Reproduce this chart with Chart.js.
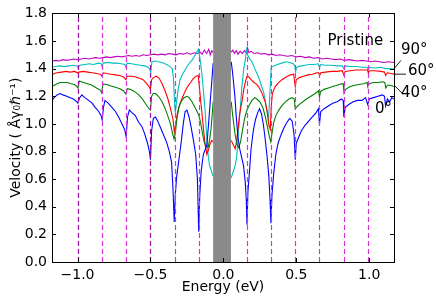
<!DOCTYPE html>
<html>
<head>
<meta charset="utf-8">
<script src="https://cdn.jsdelivr.net/npm/chart.js@4"></script>
<style>
  html, body { margin: 0; padding: 0; background: #fff; }
</style>
</head>
<body>
<canvas id="chart" width="436" height="296"></canvas>
<script>
// Velocity vs energy, pristine + rotated cases (0°, 40°, 60°, 90°)
// each curve is split in two: below and above the gray gap around E = 0

const xTicks = [-1.0, -0.5, 0.0, 0.5, 1.0];
const yTicks = [0.0, 0.2, 0.4, 0.6, 0.8, 1.0, 1.2, 1.4, 1.6, 1.8];

// energies of the dashed vertical markers (eV)
const markerE = [-0.997, -0.832, -0.666, -0.5, -0.335, -0.169,
                 0.162, 0.327, 0.493, 0.658, 0.824, 0.989];

// gray gap (eV)
const gapE = [-0.07, 0.052];

const pristineL = [[-1.175,1.455],[-1.15,1.46],[-1.125,1.455],[-1.10,1.465],[-1.075,1.46],[-1.05,1.465],[-1.025,1.47],[-1.0,1.465],[-0.975,1.47],[-0.95,1.475],[-0.925,1.47],[-0.90,1.475],[-0.875,1.48],[-0.85,1.475],[-0.825,1.48],[-0.80,1.485],[-0.775,1.48],[-0.75,1.485],[-0.725,1.49],[-0.70,1.485],[-0.675,1.49],[-0.65,1.495],[-0.625,1.49],[-0.60,1.495],[-0.575,1.49],[-0.55,1.50],[-0.525,1.495],[-0.50,1.50],[-0.475,1.505],[-0.45,1.50],[-0.425,1.505],[-0.40,1.50],[-0.375,1.51],[-0.35,1.505],[-0.325,1.50],[-0.30,1.51],[-0.275,1.505],[-0.25,1.515],[-0.225,1.505],[-0.20,1.515],[-0.18,1.51],[-0.16,1.52],[-0.145,1.505],[-0.13,1.535],[-0.115,1.51],[-0.10,1.54],[-0.09,1.50],[-0.08,1.53],[-0.07,1.515]];
const pristineR = [[0.054,1.52],[0.065,1.535],[0.075,1.51],[0.088,1.53],[0.10,1.505],[0.115,1.525],[0.13,1.51],[0.145,1.53],[0.158,1.515],[0.166,1.55],[0.175,1.515],[0.19,1.525],[0.21,1.51],[0.235,1.515],[0.26,1.505],[0.285,1.51],[0.31,1.50],[0.335,1.505],[0.36,1.495],[0.385,1.50],[0.41,1.495],[0.44,1.49],[0.47,1.495],[0.50,1.485],[0.53,1.49],[0.56,1.48],[0.59,1.485],[0.62,1.475],[0.65,1.48],[0.68,1.47],[0.71,1.475],[0.74,1.47],[0.77,1.465],[0.80,1.47],[0.83,1.46],[0.86,1.465],[0.89,1.46],[0.92,1.455],[0.95,1.46],[0.98,1.455],[1.01,1.45],[1.04,1.455],[1.07,1.45],[1.10,1.445],[1.13,1.45],[1.17,1.445]];

const deg90L = [[-1.175,1.41],[-1.15,1.415],[-1.12,1.42],[-1.09,1.415],[-1.06,1.42],[-1.03,1.425],[-1.003,1.42],[-0.997,1.41],[-0.985,1.425],[-0.95,1.43],[-0.92,1.435],[-0.89,1.43],[-0.86,1.44],[-0.838,1.435],[-0.832,1.415],[-0.824,1.44],[-0.79,1.445],[-0.76,1.44],[-0.73,1.44],[-0.70,1.435],[-0.675,1.43],[-0.668,1.41],[-0.66,1.44],[-0.63,1.435],[-0.60,1.43],[-0.57,1.425],[-0.54,1.42],[-0.515,1.41],[-0.503,1.39],[-0.498,1.37],[-0.49,1.45],[-0.47,1.455],[-0.45,1.45],[-0.42,1.445],[-0.39,1.43],[-0.365,1.415],[-0.35,1.40],[-0.342,1.33],[-0.336,1.18],[-0.33,1.08],[-0.322,1.15],[-0.31,1.25],[-0.297,1.32],[-0.28,1.36],[-0.263,1.39],[-0.24,1.43],[-0.216,1.46],[-0.198,1.49],[-0.182,1.52],[-0.171,1.54],[-0.16,1.47],[-0.148,1.37],[-0.135,1.22],[-0.125,1.09],[-0.115,0.92],[-0.105,0.78],[-0.095,0.70],[-0.085,0.67],[-0.077,0.64],[-0.07,0.62]];
const deg90R = [[0.054,0.61],[0.063,0.64],[0.072,0.67],[0.081,0.70],[0.09,0.75],[0.097,0.84],[0.104,0.95],[0.115,1.10],[0.127,1.27],[0.14,1.40],[0.15,1.46],[0.158,1.54],[0.166,1.50],[0.18,1.47],[0.196,1.45],[0.215,1.40],[0.241,1.34],[0.26,1.28],[0.276,1.23],[0.29,1.15],[0.299,1.09],[0.31,1.04],[0.318,1.20],[0.328,1.41],[0.345,1.42],[0.37,1.43],[0.40,1.44],[0.43,1.45],[0.455,1.445],[0.48,1.435],[0.49,1.42],[0.495,1.38],[0.503,1.41],[0.53,1.42],[0.56,1.425],[0.59,1.43],[0.62,1.43],[0.65,1.435],[0.66,1.41],[0.668,1.43],[0.70,1.425],[0.74,1.425],[0.78,1.42],[0.815,1.42],[0.826,1.40],[0.835,1.42],[0.87,1.415],[0.91,1.415],[0.95,1.41],[0.985,1.41],[0.993,1.395],[1.0,1.41],[1.04,1.405],[1.08,1.41],[1.11,1.40],[1.14,1.40],[1.17,1.395]];

const deg60L = [[-1.175,1.355],[-1.16,1.365],[-1.14,1.37],[-1.11,1.375],[-1.08,1.38],[-1.05,1.375],[-1.02,1.38],[-1.0,1.37],[-0.99,1.375],[-0.96,1.38],[-0.93,1.375],[-0.90,1.37],[-0.87,1.365],[-0.845,1.36],[-0.833,1.345],[-0.825,1.37],[-0.80,1.365],[-0.77,1.36],[-0.74,1.355],[-0.71,1.35],[-0.685,1.34],[-0.668,1.32],[-0.66,1.345],[-0.63,1.345],[-0.60,1.34],[-0.575,1.33],[-0.55,1.32],[-0.525,1.29],[-0.51,1.27],[-0.50,1.25],[-0.492,1.32],[-0.48,1.335],[-0.46,1.345],[-0.44,1.33],[-0.42,1.29],[-0.40,1.24],[-0.38,1.18],[-0.36,1.10],[-0.345,1.03],[-0.336,0.94],[-0.328,0.99],[-0.315,1.08],[-0.30,1.14],[-0.285,1.18],[-0.265,1.23],[-0.245,1.27],[-0.225,1.30],[-0.205,1.33],[-0.188,1.345],[-0.172,1.35],[-0.163,1.25],[-0.155,1.16],[-0.148,1.09],[-0.136,0.96],[-0.125,0.85],[-0.113,0.78],[-0.10,0.82],[-0.09,0.86],[-0.079,0.88],[-0.07,0.87]];
const deg60R = [[0.054,0.88],[0.063,0.86],[0.072,0.84],[0.081,0.82],[0.09,0.87],[0.10,0.96],[0.11,1.06],[0.12,1.12],[0.127,1.16],[0.14,1.25],[0.15,1.30],[0.162,1.345],[0.175,1.34],[0.19,1.32],[0.21,1.30],[0.225,1.29],[0.241,1.27],[0.262,1.23],[0.287,1.16],[0.30,1.09],[0.312,0.99],[0.322,0.96],[0.328,1.12],[0.336,1.22],[0.355,1.27],[0.38,1.30],[0.402,1.32],[0.43,1.34],[0.46,1.355],[0.482,1.36],[0.493,1.27],[0.50,1.32],[0.52,1.335],[0.55,1.345],[0.58,1.355],[0.61,1.36],[0.64,1.37],[0.653,1.37],[0.66,1.35],[0.668,1.37],[0.70,1.375],[0.74,1.38],[0.78,1.38],[0.815,1.385],[0.826,1.355],[0.835,1.38],[0.87,1.385],[0.91,1.39],[0.95,1.39],[0.988,1.39],[0.994,1.37],[1.0,1.385],[1.04,1.385],[1.08,1.38],[1.105,1.375],[1.112,1.35],[1.125,1.37],[1.15,1.365],[1.17,1.36]];

const deg40L = [[-1.175,1.27],[-1.16,1.28],[-1.14,1.29],[-1.12,1.30],[-1.095,1.30],[-1.07,1.30],[-1.045,1.29],[-1.02,1.285],[-1.003,1.27],[-0.997,1.26],[-0.988,1.31],[-0.96,1.30],[-0.93,1.29],[-0.90,1.28],[-0.87,1.26],[-0.845,1.245],[-0.834,1.225],[-0.826,1.29],[-0.80,1.285],[-0.77,1.275],[-0.74,1.265],[-0.71,1.255],[-0.685,1.24],[-0.668,1.215],[-0.659,1.255],[-0.64,1.25],[-0.61,1.235],[-0.58,1.21],[-0.555,1.18],[-0.53,1.14],[-0.51,1.11],[-0.50,1.10],[-0.492,1.20],[-0.48,1.22],[-0.465,1.22],[-0.445,1.20],[-0.42,1.16],[-0.395,1.10],[-0.375,1.04],[-0.36,0.99],[-0.348,0.93],[-0.338,0.89],[-0.33,0.93],[-0.318,1.04],[-0.305,1.12],[-0.29,1.16],[-0.27,1.19],[-0.25,1.20],[-0.235,1.19],[-0.215,1.16],[-0.195,1.12],[-0.18,1.09],[-0.168,1.06],[-0.158,1.02],[-0.145,0.94],[-0.132,0.87],[-0.12,0.84],[-0.105,0.83],[-0.095,0.88],[-0.085,0.96],[-0.077,1.06],[-0.07,1.16]];
const deg40R = [[0.054,1.16],[0.062,1.08],[0.07,1.01],[0.081,0.92],[0.093,0.85],[0.105,0.83],[0.118,0.87],[0.132,0.96],[0.148,1.05],[0.165,1.11],[0.18,1.14],[0.196,1.17],[0.215,1.19],[0.23,1.18],[0.25,1.16],[0.27,1.12],[0.288,1.05],[0.302,0.98],[0.315,0.91],[0.325,0.87],[0.333,0.93],[0.345,1.01],[0.36,1.06],[0.38,1.10],[0.40,1.13],[0.425,1.16],[0.45,1.18],[0.472,1.19],[0.486,1.18],[0.493,1.11],[0.50,1.12],[0.52,1.14],[0.545,1.16],[0.57,1.18],[0.60,1.20],[0.63,1.22],[0.652,1.24],[0.659,1.195],[0.667,1.235],[0.69,1.25],[0.72,1.26],[0.75,1.27],[0.78,1.28],[0.81,1.29],[0.822,1.29],[0.827,1.225],[0.838,1.25],[0.87,1.27],[0.90,1.28],[0.93,1.285],[0.96,1.29],[0.985,1.30],[0.99,1.275],[1.0,1.29],[1.03,1.30],[1.06,1.30],[1.09,1.305],[1.107,1.30],[1.113,1.26],[1.125,1.28],[1.145,1.28],[1.17,1.27]];

const deg0L = [[-1.175,1.17],[-1.16,1.19],[-1.14,1.21],[-1.12,1.22],[-1.10,1.21],[-1.074,1.20],[-1.05,1.19],[-1.027,1.18],[-1.005,1.16],[-0.998,1.15],[-0.985,1.19],[-0.970,1.21],[-0.95,1.19],[-0.924,1.17],[-0.90,1.15],[-0.879,1.12],[-0.855,1.09],[-0.838,1.06],[-0.831,1.03],[-0.822,1.12],[-0.812,1.17],[-0.79,1.15],[-0.764,1.12],[-0.74,1.09],[-0.718,1.05],[-0.695,1.00],[-0.677,0.96],[-0.667,0.91],[-0.657,1.05],[-0.645,1.10],[-0.625,1.08],[-0.604,1.06],[-0.58,1.01],[-0.558,0.98],[-0.54,0.93],[-0.52,0.86],[-0.507,0.80],[-0.50,0.74],[-0.492,0.95],[-0.48,1.04],[-0.465,1.05],[-0.45,1.02],[-0.43,0.97],[-0.41,0.92],[-0.39,0.87],[-0.37,0.80],[-0.355,0.72],[-0.345,0.52],[-0.337,0.29],[-0.33,0.48],[-0.32,0.62],[-0.305,0.74],[-0.29,0.86],[-0.275,1.00],[-0.262,1.09],[-0.25,1.10],[-0.235,1.05],[-0.22,0.97],[-0.205,0.88],[-0.19,0.78],[-0.178,0.60],[-0.169,0.22],[-0.162,0.48],[-0.152,0.66],[-0.137,0.78],[-0.122,0.82],[-0.113,0.85],[-0.10,1.02],[-0.09,1.16],[-0.08,1.30],[-0.07,1.44]];
const deg0R = [[0.054,1.45],[0.062,1.38],[0.07,1.30],[0.079,1.20],[0.088,1.06],[0.10,0.90],[0.112,0.82],[0.125,0.76],[0.138,0.70],[0.15,0.58],[0.157,0.45],[0.162,0.27],[0.168,0.50],[0.178,0.64],[0.19,0.82],[0.205,0.95],[0.22,1.03],[0.235,1.08],[0.248,1.11],[0.262,1.07],[0.275,0.99],[0.288,0.88],[0.30,0.76],[0.312,0.62],[0.32,0.45],[0.326,0.28],[0.333,0.48],[0.345,0.64],[0.36,0.78],[0.375,0.86],[0.395,0.92],[0.415,0.97],[0.435,1.01],[0.455,1.04],[0.472,1.02],[0.485,0.92],[0.493,0.74],[0.50,0.86],[0.515,0.90],[0.535,0.95],[0.56,0.99],[0.585,1.02],[0.61,1.05],[0.635,1.08],[0.652,1.11],[0.659,1.00],[0.668,1.09],[0.69,1.11],[0.72,1.13],[0.75,1.15],[0.78,1.16],[0.81,1.18],[0.822,1.17],[0.826,1.05],[0.836,1.12],[0.86,1.14],[0.89,1.16],[0.92,1.17],[0.95,1.17],[0.975,1.19],[0.99,1.14],[1.0,1.18],[1.03,1.19],[1.06,1.20],[1.09,1.21],[1.105,1.20],[1.112,1.13],[1.125,1.18],[1.14,1.16],[1.155,1.19],[1.17,1.18]];

// join the two halves with a null point so the line breaks over the gap
function joinHalves(left, right) {
    var pts = left.map(p => ({x: p[0], y: p[1]}));
    pts.push({x: 0, y: null});
    return pts.concat(right.map(p => ({x: p[0], y: p[1]})));
}

function fmtTick(v) {
    return v.toFixed(1).replace('-', '\u2212');
}

Chart.defaults.font.family = "'DejaVu Sans', sans-serif";
Chart.defaults.font.size = 14;
Chart.defaults.color = '#000';

// dashed markers, gray gap, frame, inward ticks and curve labels
const decorations = {
    id: 'decorations',
    afterDatasetsDraw(chart) {
        const ctx = chart.ctx;
        const a = chart.chartArea;
        const xs = chart.scales.x, ys = chart.scales.y;
        ctx.save();

        ctx.lineWidth = 1.2;
        ctx.setLineDash([5, 3]);
        markerE.forEach(function (e) {
            var px = Math.round(xs.getPixelForValue(e)) + 0.5;
            // the two at -1.0 and -0.5 come out darker in the original
            ctx.strokeStyle = (e === -0.997 || e === -0.5) ? '#a010a0' : '#d235d2';
            ctx.beginPath();
            ctx.moveTo(px, a.bottom);
            ctx.lineTo(px, a.top);
            ctx.stroke();
        });
        ctx.setLineDash([]);

        var g0 = xs.getPixelForValue(gapE[0]), g1 = xs.getPixelForValue(gapE[1]);
        ctx.fillStyle = '#8a8a8a';
        ctx.fillRect(g0, a.top, g1 - g0, a.bottom - a.top);

        // frame
        ctx.strokeStyle = '#000';
        ctx.lineWidth = 1;
        ctx.strokeRect(Math.round(a.left) + 0.5, Math.round(a.top) + 0.5,
                       Math.round(a.right - a.left), Math.round(a.bottom - a.top));

        // inward ticks on all four sides
        ctx.beginPath();
        xTicks.forEach(function (v) {
            var px = Math.round(xs.getPixelForValue(v)) + 0.5;
            ctx.moveTo(px, a.bottom); ctx.lineTo(px, a.bottom - 4);
            ctx.moveTo(px, a.top); ctx.lineTo(px, a.top + 4);
        });
        yTicks.forEach(function (v) {
            var py = Math.round(ys.getPixelForValue(v)) + 0.5;
            ctx.moveTo(a.left, py); ctx.lineTo(a.left + 4, py);
            ctx.moveTo(a.right, py); ctx.lineTo(a.right - 4, py);
        });
        ctx.stroke();

        // labels for the curves
        ctx.fillStyle = '#000';
        ctx.font = "15px 'DejaVu Sans'";
        ctx.textBaseline = 'middle';
        ctx.textAlign = 'center';
        ctx.fillText('Pristine', xs.getPixelForValue(0.905), ys.getPixelForValue(1.60));
        ctx.textAlign = 'left';
        ctx.fillText('90°', a.right + 7, ys.getPixelForValue(1.535));
        ctx.fillText('60°', a.right + 14, ys.getPixelForValue(1.385));
        ctx.fillText('40°', a.right + 7, ys.getPixelForValue(1.225));
        ctx.fillText('0°', xs.getPixelForValue(1.04), ys.getPixelForValue(1.11));

        ctx.lineWidth = 0.9;
        ctx.beginPath();
        ctx.moveTo(a.right, ys.getPixelForValue(1.40)); ctx.lineTo(a.right + 7, ys.getPixelForValue(1.46));
        ctx.moveTo(a.right + 1, ys.getPixelForValue(1.36)); ctx.lineTo(a.right + 12, ys.getPixelForValue(1.36));
        ctx.moveTo(a.right + 1, ys.getPixelForValue(1.274)); ctx.lineTo(a.right + 9, ys.getPixelForValue(1.215));
        ctx.stroke();

        ctx.restore();
    }
};

new Chart(document.getElementById('chart'), {
    type: 'line',
    data: {
        datasets: [
            { data: joinHalves(deg0L, deg0R), borderColor: '#0000ff' },
            { data: joinHalves(deg40L, deg40R), borderColor: '#008000' },
            { data: joinHalves(deg60L, deg60R), borderColor: '#ff0000' },
            { data: joinHalves(deg90L, deg90R), borderColor: '#00bfbf' },
            { data: joinHalves(pristineL, pristineR), borderColor: '#bf00bf' }
        ]
    },
    options: {
        responsive: false,
        animation: false,
        layout: { padding: { top: 5, right: 42, bottom: 0, left: 0 } },
        elements: {
            point: { radius: 0 },
            line: { borderWidth: 1.1, tension: 0, fill: false }
        },
        plugins: {
            legend: { display: false },
            tooltip: { enabled: false }
        },
        scales: {
            x: {
                type: 'linear',
                min: -1.175,
                max: 1.17,
                afterBuildTicks: function (s) { s.ticks = xTicks.map(v => ({ value: v })); },
                afterFit: function (s) { s.height = 34; },
                grid: { display: false, drawTicks: false },
                border: { display: false },
                ticks: { padding: 5, maxRotation: 0, autoSkip: false, callback: v => fmtTick(v) },
                title: { display: true, text: 'Energy (eV)', padding: { top: 0, bottom: 0 } }
            },
            y: {
                min: 0,
                max: 1.8,
                afterBuildTicks: function (s) { s.ticks = yTicks.map(v => ({ value: v })); },
                afterFit: function (s) { s.width = 52; },
                grid: { display: false, drawTicks: false },
                border: { display: false },
                ticks: { padding: 5, callback: v => fmtTick(v) },
                title: { display: true, text: 'Velocity ( Åγ₀ℏ⁻¹)', padding: { top: 8, bottom: 0 } }
            }
        }
    },
    plugins: [decorations]
});
</script>
</body>
</html>
